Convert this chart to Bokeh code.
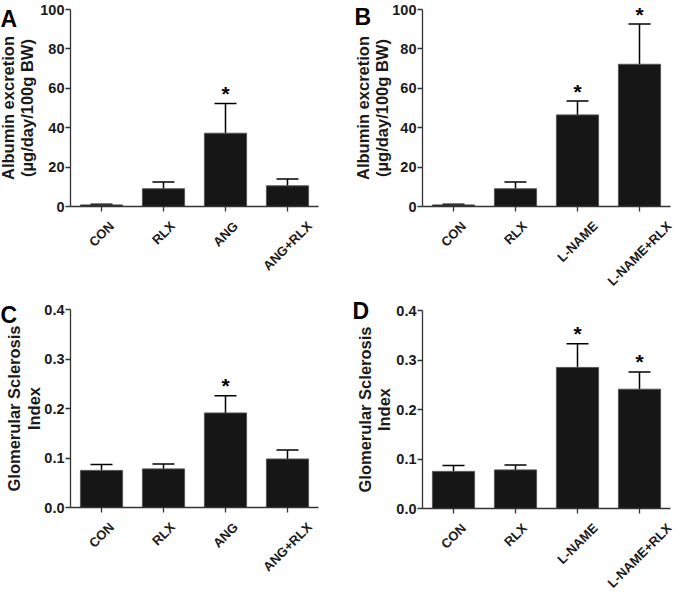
import math
from bokeh.plotting import figure
from bokeh.models import (Range1d, ColumnDataSource, Whisker, TeeHead, LabelSet, Label,
                          FixedTicker, NumeralTickFormatter, LinearAxis, Grid)
from bokeh.core.properties import value
from bokeh.layouts import column, row
from bokeh.embed import file_html
from bokeh.resources import INLINE

# ---------------- data ----------------
cats_ang = ["CON", "RLX", "ANG", "ANG+RLX"]
cats_lname = ["CON", "RLX", "L-NAME", "L-NAME+RLX"]

alb_ang_mean = [0.8, 9.0, 37.2, 10.5]
alb_ang_sem = [0.3, 3.5, 15.1, 3.4]
alb_ang_star = [False, False, True, False]

alb_lname_mean = [0.8, 9.0, 46.5, 72.2]
alb_lname_sem = [0.3, 3.5, 7.0, 20.4]
alb_lname_star = [False, False, True, True]

gsi_ang_mean = [0.075, 0.078, 0.191, 0.098]
gsi_ang_sem = [0.012, 0.010, 0.035, 0.018]
gsi_ang_star = [False, False, True, False]

gsi_lname_mean = [0.075, 0.078, 0.285, 0.241]
gsi_lname_sem = [0.012, 0.010, 0.048, 0.035]
gsi_lname_star = [False, False, True, True]

alb_ticks = [0, 20, 40, 60, 80, 100]
gsi_ticks = [0.0, 0.1, 0.2, 0.3, 0.4]

alb_label = ["Albumin excretion", "(\u00b5g/day/100g BW)"]
gsi_label = ["Glomerular Sclerosis", "Index"]

FONT = "Liberation Sans"
BAR = "#161616"
AXC = "#333333"
TXT = "#1a1a1a"

# approximate bold glyph widths (per 1000 em) used only to place rotated labels
GW = {"A": 722, "C": 722, "E": 667, "G": 778, "L": 611, "M": 833, "N": 722,
      "O": 778, "R": 722, "X": 667, "+": 584, "-": 333}


def text_w(s, fs):
    return sum(GW.get(c, 667) for c in s) / 1000.0 * fs


def panel(letter, cats, mean, sem, star, ticks, fmt, ylab, lab_dx, letter_xy,
          cw, ch, left, top, pw, ph):
    """cw, ch: canvas size; left, top, pw, ph: pixel box of the data area."""
    n = len(cats)
    ymax = ticks[-1]
    xu = n / pw          # data units per pixel (x)
    yu = ymax / ph       # data units per pixel (y)
    p = figure(x_range=Range1d(-left * xu, (cw - left) * xu),
               y_range=Range1d(-(ch - top - ph) * yu, ymax + top * yu),
               frame_width=cw, frame_height=ch,
               min_border=0, x_axis_location=None, y_axis_location=None,
               output_backend="svg", toolbar_location=None)
    p.outline_line_color = None
    p.background_fill_color = "white"
    p.border_fill_color = "white"
    for obj in list(p.center):
        if isinstance(obj, Grid):
            obj.visible = False

    xs = [i + 0.5 for i in range(n)]
    upper = [m + s for m, s in zip(mean, sem)]
    src = ColumnDataSource(dict(x=xs, mean=mean, upper=upper))
    p.vbar(x="x", top="mean", width=0.68, source=src,
           fill_color=BAR, line_color="#555555", line_width=1)
    p.add_layout(Whisker(base="x", lower="mean", upper="upper", source=src,
                         dimension="height", line_color="black", line_width=1.5,
                         upper_head=TeeHead(size=22, line_color="black", line_width=1.5),
                         lower_head=None))

    # axes
    ya = LinearAxis(fixed_location=0, bounds=(0, ymax),
                    ticker=FixedTicker(ticks=ticks, minor_ticks=[]),
                    formatter=NumeralTickFormatter(format=fmt))
    ya.major_label_text_font = FONT
    ya.major_label_text_font_style = "bold"
    ya.major_label_text_font_size = "14.5px"
    ya.major_label_text_color = TXT
    ya.major_label_standoff = 1
    ya.major_tick_out = 5
    ya.major_tick_in = 0
    ya.minor_tick_out = 0
    ya.minor_tick_in = 0
    ya.axis_line_color = AXC
    ya.major_tick_line_color = AXC
    ya.axis_line_width = 1.3
    ya.major_tick_line_width = 1.3
    p.add_layout(ya, "left")

    xa = LinearAxis(fixed_location=0, bounds=(0, n),
                    ticker=FixedTicker(ticks=[], minor_ticks=xs))
    xa.minor_tick_out = 5
    xa.minor_tick_in = 0
    xa.minor_tick_line_color = AXC
    xa.minor_tick_line_width = 1.3
    xa.axis_line_color = AXC
    xa.axis_line_width = 1.3
    p.add_layout(xa, "below")

    # significance stars
    sx = [x for x, s in zip(xs, star) if s]
    sy = [u for u, s in zip(upper, star) if s]
    ssrc = ColumnDataSource(dict(x=sx, y=sy, t=["*"] * len(sx)))
    p.add_layout(LabelSet(x="x", y="y", text="t", source=ssrc, y_offset=10,
                          text_align="center", text_baseline="middle",
                          text_font=value(FONT), text_font_style="bold",
                          text_font_size="21px", text_color="black"))

    # rotated category labels, centred under each tick
    fs = 13
    offs = [-(14 + (text_w(c, fs) + 0.72 * fs) / (2 * math.sqrt(2))) for c in cats]
    csrc = ColumnDataSource(dict(x=xs, y=[0] * n, t=cats, off=offs))
    p.add_layout(LabelSet(x="x", y="y", text="t", source=csrc, y_offset="off",
                          angle=math.pi / 4, text_align="center",
                          text_baseline="middle", text_font=value(FONT),
                          text_font_style="bold", text_font_size=f"{fs}px",
                          text_color=TXT))

    # y-axis title (two lines)
    for txt, dx in zip(ylab, lab_dx):
        p.add_layout(Label(x=left + dx, y=ch - top - ph / 2, x_units="screen",
                           y_units="screen", text=txt, angle=math.pi / 2,
                           text_align="center", text_baseline="middle",
                           text_font=FONT, text_font_style="bold",
                           text_font_size="16.5px", text_color=TXT))

    # panel letter
    p.add_layout(Label(x=letter_xy[0], y=ch - letter_xy[1], x_units="screen",
                       y_units="screen", text=letter, text_align="left",
                       text_baseline="alphabetic", text_font=FONT,
                       text_font_style="bold", text_font_size="23px",
                       text_color="black"))
    return p


pA = panel("A", cats_ang, alb_ang_mean, alb_ang_sem, alb_ang_star, alb_ticks, "0",
           alb_label, [-63, -44], (0, 18), cw=337, ch=292, left=70, top=9, pw=248, ph=197)
pB = panel("B", cats_lname, alb_lname_mean, alb_lname_sem, alb_lname_star, alb_ticks, "0",
           alb_label, [-60, -41], (17, 16), cw=345, ch=292, left=85, top=9, pw=248, ph=197)
pC = panel("C", cats_ang, gsi_ang_mean, gsi_ang_sem, gsi_ang_star, gsi_ticks, "0.0",
           gsi_label, [-57, -37], (0, 22), cw=337, ch=300, left=70, top=17, pw=248, ph=198)
pD = panel("D", cats_lname, gsi_lname_mean, gsi_lname_sem, gsi_lname_star, gsi_ticks, "0.0",
           gsi_label, [-58, -39], (15, 18), cw=345, ch=300, left=85, top=18, pw=248, ph=198)

layout = column(row(pA, pB), row(pC, pD))
open("out.html", "w").write(file_html(layout, INLINE))
